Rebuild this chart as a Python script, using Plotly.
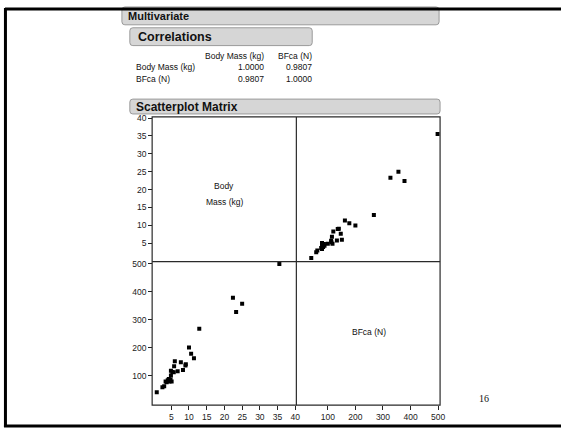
import plotly.graph_objects as go

W, H = 566, 428

# ---- data ----
body_mass = [0.9, 2.5, 3.0, 3.4, 3.7, 4.0, 4.3, 4.5, 4.8, 5.1, 4.9, 4.9, 5.3, 5.8, 6.0,
             5.7, 6.8, 7.7, 8.3, 9.1, 9.0, 10.0, 10.6, 11.4, 12.9, 22.4, 23.3, 25.0, 35.5]
bfca = [40, 58, 62, 79, 76, 83, 88, 79, 86, 79, 117, 100, 113, 133, 151,
        112, 115, 147, 120, 140, 136, 200, 178, 162, 267, 378, 327, 356, 498]

var_names = ["Body Mass (kg)", "BFca (N)"]
corr = [[1.0000, 0.9807], [0.9807, 1.0000]]

mass_ticks = [5, 10, 15, 20, 25, 30, 35, 40]
bfca_ticks = [100, 200, 300, 400, 500]

# ---- pixel helpers ----
def px(x):
    return x / W

def py(y):
    return 1 - y / H

FONT = "Liberation Sans, Arial, sans-serif"

# panel geometry (pixels)
L, M, R = 153.5, 299, 444
T, C, B = 114, 260, 405

fig = go.Figure()
fig.add_trace(go.Scatter(x=bfca, y=body_mass, xaxis="x2", yaxis="y", mode="markers",
                         marker=dict(symbol="square", size=4, color="black", line=dict(width=0)),
                         hoverinfo="skip", showlegend=False))
fig.add_trace(go.Scatter(x=body_mass, y=bfca, xaxis="x", yaxis="y2", mode="markers",
                         marker=dict(symbol="square", size=4, color="black", line=dict(width=0)),
                         hoverinfo="skip", showlegend=False))

tickfont = dict(family=FONT, size=8.5, color="#222")
common = dict(showgrid=False, zeroline=False, showline=False, ticks="outside", ticklen=4,
              tickwidth=1, tickcolor="#222", tickfont=tickfont)

fig.update_layout(
    width=W, height=H, margin=dict(l=0, r=0, t=0, b=0),
    paper_bgcolor="white", plot_bgcolor="white",
    xaxis=dict(domain=[px(L), px(M)], range=[-0.4, 40.3], tickvals=mass_ticks,
               anchor="free", position=py(B), **common),
    xaxis2=dict(domain=[px(M), px(R)], range=[-14, 507], tickvals=bfca_ticks,
                anchor="free", position=py(B), **common),
    yaxis=dict(domain=[py(C), py(T)], range=[-0.1, 40.3], tickvals=mass_ticks,
               anchor="free", position=px(L), **common),
    yaxis2=dict(domain=[py(B), py(C)], range=[-6, 507], tickvals=bfca_ticks,
                anchor="free", position=px(L), **common),
)

shapes = []
# matrix frame and dividers
lc = "#2a2a2a"
shapes.append(dict(type="rect", xref="paper", yref="paper", x0=px(L), x1=px(R), y0=py(B), y1=py(T),
                   line=dict(color=lc, width=1.2), layer="above"))
shapes.append(dict(type="line", xref="paper", yref="paper", x0=px(M), x1=px(M), y0=py(B), y1=py(T),
                   line=dict(color=lc, width=1.2), layer="above"))
shapes.append(dict(type="line", xref="paper", yref="paper", x0=px(L), x1=px(R), y0=py(C), y1=py(C),
                   line=dict(color=lc, width=1.2), layer="above"))


def rbox(x0, y0, x1, y1, r=3):
    # rounded rectangle path in paper coords
    rx, ry = r / W, r / H
    X0, X1 = px(x0), px(x1)
    Y0, Y1 = py(y0), py(y1)  # Y0 top, Y1 bottom
    p = (f"M {X0+rx},{Y0} L {X1-rx},{Y0} Q {X1},{Y0} {X1},{Y0-ry} "
         f"L {X1},{Y1+ry} Q {X1},{Y1} {X1-rx},{Y1} L {X0+rx},{Y1} "
         f"Q {X0},{Y1} {X0},{Y1+ry} L {X0},{Y0-ry} Q {X0},{Y0} {X0+rx},{Y0} Z")
    return dict(type="path", xref="paper", yref="paper", path=p,
                fillcolor="#d6d6d6", line=dict(color="#9a9a9a", width=1), layer="above")

shapes.append(rbox(123, 3, 443, 21))
shapes.append(rbox(131, 24, 315, 42))
shapes.append(rbox(131, 96, 444, 111))

# slide frame
shapes.append(dict(type="line", xref="paper", yref="paper", x0=px(5), x1=1, y0=py(5), y1=py(5),
                   line=dict(color="black", width=3), layer="above"))
shapes.append(dict(type="line", xref="paper", yref="paper", x0=px(5.5), x1=px(5.5), y0=py(4), y1=py(427),
                   line=dict(color="black", width=3), layer="above"))
shapes.append(dict(type="line", xref="paper", yref="paper", x0=px(4), x1=1, y0=py(426), y1=py(426),
                   line=dict(color="black", width=3), layer="above"))

fig.update_layout(shapes=shapes)

ann = []

def text(x, y, s, size=9, bold=False, xanchor="left", family=FONT, color="#111"):
    ann.append(dict(xref="paper", yref="paper", x=px(x), y=py(y), text=(f"<b>{s}</b>" if bold else s),
                    showarrow=False, xanchor=xanchor, yanchor="middle",
                    font=dict(family=family, size=size, color=color)))

text(127, 12.5, "Multivariate", size=11, bold=True)
text(137, 33, "Correlations", size=12.5, bold=True)
text(135, 103.5, "Scatterplot Matrix", size=12, bold=True)

# correlation table
col_right = [268, 317]
text(col_right[0], 52, var_names[0], size=8.5, xanchor="right")
text(col_right[1], 52, var_names[1], size=8.5, xanchor="right")
for i, name in enumerate(var_names):
    yy = 63.5 + i * 12.5
    text(135, yy, name, size=8.5)
    for j in range(2):
        text(col_right[j], yy, f"{corr[i][j]:.4f}", size=8.5, xanchor="right")

# diagonal labels
text(226, 184, "Body", size=8.5, xanchor="center")
text(226, 200, "Mass (kg)", size=8.5, xanchor="center")
text(372, 331, "BFca (N)", size=8.5, xanchor="center")

# page number
text(488, 398, "16", size=10, xanchor="center", family="Liberation Serif, Times New Roman, serif")

fig.update_layout(annotations=ann)

fig.write_html("out.html", config={"displayModeBar": False},
               post_script="document.body.style.margin='0';document.body.style.overflow='hidden';")
